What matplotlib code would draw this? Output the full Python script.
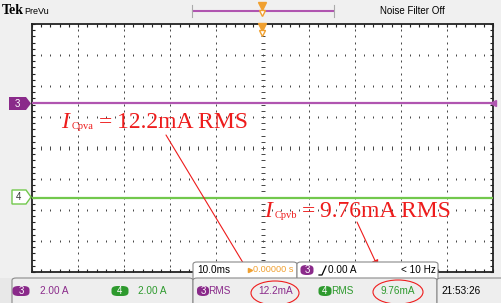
import matplotlib.pyplot as plt
import numpy as np
from matplotlib.patches import FancyBboxPatch, Ellipse, Polygon, Rectangle
from matplotlib.lines import Line2D
from matplotlib.ticker import MultipleLocator

W, H = 502, 303

# traces, in screen divisions (10 x 8 graticule, centre = 0)
time_div = [0, 10]
ch3_level = [1.45, 1.45]
ch4_level = [-1.6, -1.6]

# readouts
ch3_scale = "2.00 A"
ch4_scale = "2.00 A"
ch3_rms = "12.2mA"
ch4_rms = "9.76mA"
timebase = "10.0ms"
trig_pos = "0.00000 s"
trig_level = "0.00 A"
trig_freq = "< 10 Hz"
clock = "21:53:26"
note3 = ("Cpva", "12.2mA RMS")
note4 = ("Cpvb", "9.76mA RMS")

purple = '#b055b0'
purple_txt = '#8a2a8a'
green = '#72c84c'
green_txt = '#2e9a2e'
orange = '#f0a030'
red = '#ee1c1c'
sans = ['Liberation Sans Narrow', 'Liberation Sans']
serif = 'Liberation Serif'


def fp(x, y):
    # screen pixel (from top-left) -> figure fraction
    return (x / W, 1 - y / H)


fig = plt.figure(figsize=(W / 100, H / 100), dpi=100, facecolor='#f0f0f0')
ax = fig.add_axes([32 / W, 1 - 272 / H, 461 / W, 248 / H])
ax.set_facecolor('white')
ax.set_xlim(0, 10)
ax.set_ylim(-4, 4)

# graticule
ys = np.arange(-4, 4.001, 0.2)
xs = np.arange(0, 10.001, 0.2)
for gx in range(1, 10):
    ax.plot([gx] * len(ys), ys, ls='none', marker='_' if gx == 5 else '|',
            ms=3 if gx == 5 else 1.6, mew=0.7, color='#444444')
for gy in range(-3, 4):
    ax.plot(xs, [gy] * len(xs), ls='none', marker='|',
            ms=3 if gy == 0 else 1.6, mew=0.7, color='#444444')

ax.xaxis.set_major_locator(MultipleLocator(1))
ax.xaxis.set_minor_locator(MultipleLocator(0.2))
ax.yaxis.set_major_locator(MultipleLocator(1))
ax.yaxis.set_minor_locator(MultipleLocator(0.2))
ax.tick_params(which='both', direction='in', length=2.5, width=0.8, color='#222222',
               top=True, right=True, labelbottom=False, labelleft=False)
for s in ax.spines.values():
    s.set_linewidth(1.3)
    s.set_color('#222222')

# traces
ax.plot(time_div, ch3_level, color=purple, lw=1.6, zorder=3)
ax.plot(time_div, ch4_level, color=green, lw=1.6, zorder=3)
ax.plot(10, ch3_level[0], marker='<', color=purple, ms=5, clip_on=False, zorder=4)

# channel markers on the left
fig.add_artist(Polygon([fp(9, 97), fp(26, 97), fp(31, 103.5), fp(26, 110), fp(9, 110)],
                       closed=True, transform=fig.transFigure, fc=purple_txt, ec='none'))
fig.text(*fp(17, 104), '3', color='white', fontsize=7, ha='center', va='center', family=sans)
fig.add_artist(Polygon([fp(12, 190), fp(26, 190), fp(31, 197), fp(26, 204), fp(12, 204)],
                       closed=True, transform=fig.transFigure, fc='white', ec=green, lw=1))
fig.text(*fp(19, 197), '4', color='#333333', fontsize=7, ha='center', va='center', family=sans)

# top bar
fig.text(*fp(2, 11), 'Tek', fontsize=10, fontweight='bold', family=serif, va='center')
fig.text(*fp(24, 11), 'PreVu', fontsize=6.5, family=sans, va='center')
fig.add_artist(Line2D([193 / W, 333 / W], [1 - 11 / H] * 2, color=purple, lw=1.5))
for bx in (192, 334):
    fig.add_artist(Line2D([bx / W] * 2, [1 - 5 / H, 1 - 17 / H], color='#aaaaaa', lw=0.8))
fig.add_artist(Line2D([262 / W], [1 - 6 / H], marker='v', color=orange, ms=6))
fig.add_artist(Line2D([262 / W], [1 - 13 / H], marker='v', mfc='white', mec=orange, ms=5))
fig.add_artist(Line2D([262 / W], [1 - 27 / H], marker='v', color=orange, ms=6))
fig.add_artist(Line2D([262 / W], [1 - 33 / H], marker='v', mfc='white', mec=orange, ms=5))
fig.text(*fp(412, 11), 'Noise Filter Off', fontsize=7, family=sans, ha='center', va='center')


def box(x0, y0, x1, y1, fc):
    fig.add_artist(FancyBboxPatch(fp(x0, y1), (x1 - x0) / W, (y1 - y0) / H,
                                  boxstyle='round,pad=0,rounding_size=0.008',
                                  transform=fig.transFigure, fc=fc, ec='#8a8a8a', lw=0.8))


def pill(xc, yc, label, fc, w=15):
    fig.add_artist(FancyBboxPatch(fp(xc - w / 2, yc + 5), w / W, 10 / H,
                                  boxstyle='round,pad=0,rounding_size=0.012',
                                  transform=fig.transFigure, fc=fc, ec='none'))
    fig.text(*fp(xc, yc), label, color='white', fontsize=7, ha='center', va='center',
             family=sans)


# readout boxes
fig.add_artist(Rectangle((0, 0), 1, 25 / H, transform=fig.transFigure, fc='#e8e8e8', ec='none'))
box(193, 262, 297, 285, 'white')
box(297, 262, 438, 285, 'white')
box(12, 278, 193, 310, '#eeeeee')
box(193, 278, 437, 310, '#eeeeee')
box(437, 278, 510, 310, '#eeeeee')

fs = 7.2
fig.text(*fp(197, 270), timebase, fontsize=fs, family=sans, va='center')
fig.add_artist(Line2D([250 / W], [1 - 270 / H], marker='>', color=orange, ms=3))
fig.text(*fp(253, 270), trig_pos, fontsize=6.6, family=sans, va='center', color=orange)
pill(307, 270, '3', purple_txt, w=13)
fig.add_artist(Line2D([319 / W, 322 / W, 326 / W], [1 - 275 / H, 1 - 275 / H, 1 - 266 / H],
                      color='black', lw=0.9))
fig.text(*fp(328, 270), trig_level, fontsize=fs, family=sans, va='center')
fig.text(*fp(436, 270), trig_freq, fontsize=fs, family=sans, va='center', ha='right')

pill(21, 291, '3', purple_txt, w=17)
fig.text(*fp(40, 291), ch3_scale, fontsize=fs, family=sans, va='center', color=purple_txt)
pill(120, 291, '4', green_txt, w=17)
fig.text(*fp(138, 291), ch4_scale, fontsize=fs, family=sans, va='center', color=green_txt)
pill(203, 291, '3', purple_txt, w=12)
fig.text(*fp(208, 291), 'RMS', fontsize=fs, family=sans, va='center', color=purple_txt)
fig.text(*fp(276, 291), ch3_rms, fontsize=fs, family=sans, va='center', ha='center',
         color=purple_txt)
pill(325, 291, '4', green_txt, w=13)
fig.text(*fp(331, 291), 'RMS', fontsize=fs, family=sans, va='center', color=green_txt)
fig.text(*fp(398, 291), ch4_rms, fontsize=fs, family=sans, va='center', ha='center',
         color=green_txt)
fig.text(*fp(441, 291), clock, fontsize=fs, family=sans, va='center')


# red annotations
def note(x, y, sub, rest):
    fig.text(*fp(x, y), 'I', fontsize=17, color=red, family=serif, style='italic',
             va='baseline')
    fig.text(*fp(x + 11, y + 1), sub, fontsize=7.5, color=red, family=serif, va='baseline')
    fig.text(*fp(x + 38, y), '=', fontsize=17, color=red, family=serif, va='baseline')
    fig.text(*fp(x + 56, y), rest, fontsize=17, color=red, family=serif, va='baseline')


note(61, 128, *note3)
note(264, 217, *note4)
arrow = dict(arrowstyle='-|>', color=red, lw=0.8, mutation_scale=10, shrinkA=0, shrinkB=0)
ax.annotate('', xy=fp(248, 271), xytext=fp(166, 135), xycoords='figure fraction',
            textcoords='figure fraction', arrowprops=arrow)
ax.annotate('', xy=fp(378, 267), xytext=fp(357, 222), xycoords='figure fraction',
            textcoords='figure fraction', arrowprops=arrow)
fig.add_artist(Ellipse(fp(275, 293), 48 / W, 24 / H, transform=fig.transFigure,
                       fc='none', ec=red, lw=0.8))
fig.add_artist(Ellipse(fp(398, 292), 50 / W, 24 / H, transform=fig.transFigure,
                       fc='none', ec=red, lw=0.8))

fig.savefig('out.png', dpi=100, facecolor=fig.get_facecolor())
